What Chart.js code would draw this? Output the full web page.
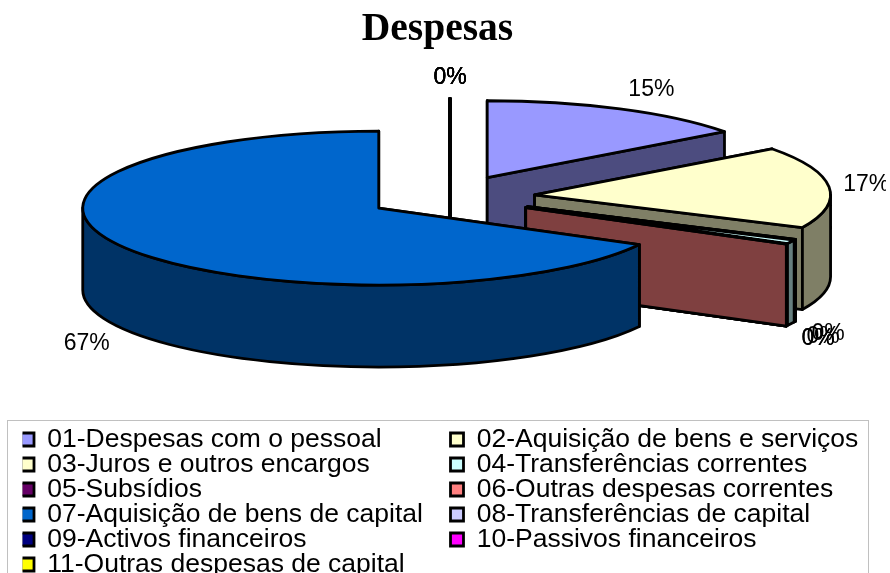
<!DOCTYPE html>
<html>
<head>
<meta charset="utf-8">
<title>Despesas</title>
<script src="https://cdn.jsdelivr.net/npm/chart.js@4"></script>
<style>
html,body{margin:0;padding:0;background:#fff;}
canvas{display:block;}
</style>
</head>
<body>
<canvas id="pie" width="886" height="573"></canvas>
<script>
var categories=["01-Despesas com o pessoal","02-Aquisição de bens e serviços","03-Juros e outros encargos","04-Transferências correntes","05-Subsídios","06-Outras despesas correntes","07-Aquisição de bens de capital","08-Transferências de capital","09-Activos financeiros","10-Passivos financeiros","11-Outras despesas de capital"];
var values=[14.8,17.2,0.05,0.8,0.005,0.005,67.14,0,0,0,0];
var percentLabels=["15%","17%","0%","0%","0%","0%","67%","0%","0%","0%","0%"];
var colors=["#9999FF","#FFFFCC","#FFFFCC","#CCFFFF","#660066","#FF8080","#0066CC","#CCCCFF","#000080","#FF00FF","#FFFF00"];
var explodes=[83,85,86,86,86,86,83,83,83,83,83]; // afastamento das fatias

var squash=0.26;   // achatamento da elipse
var depth=82;      // altura da parede 3D

function darker(hex){
    var n=parseInt(hex.slice(1),16);
    return "rgb("+((n>>16&255)>>1)+","+((n>>8&255)>>1)+","+((n&255)>>1)+")";
}

var pie3d={
    id:"pie3d",
    afterLayout:function(chart){
        // titulo centrado na caixa da legenda
        chart.titleBlock.left=7;
        chart.titleBlock.right=868;
        // legenda em baixo, duas colunas
        var legend=chart.legend;
        legend.left=22.5;
        legend.right=868;
        legend.top=427.75;
        legend.bottom=590;
        legend.columnSizes[0].width=431;
    },
    beforeDatasetsDraw:function(chart){
        var ctx=chart.ctx;
        var slices=chart.getDatasetMeta(0).data.map(function(arc,i){
            var mid=(arc.startAngle+arc.endAngle)/2;
            return {
                i:i,
                t0:arc.startAngle,
                t1:arc.endAngle,
                mid:mid,
                r:arc.outerRadius,
                x:arc.x+Math.cos(mid)*explodes[i],
                y:arc.y+Math.sin(mid)*explodes[i]*squash,
                color:arc.options.backgroundColor
            };
        });
        // de tras para a frente
        var order=slices.slice().sort(function(a,b){return Math.sin(a.mid)-Math.sin(b.mid);});

        ctx.save();
        ctx.lineWidth=2.8;
        ctx.lineJoin="round";
        ctx.lineCap="round";
        ctx.strokeStyle="#000";

        function rx(s,t){return s.x+Math.cos(t)*s.r;}
        function ry(s,t){return s.y+Math.sin(t)*s.r*squash;}
        function face(s,t){
            ctx.beginPath();
            ctx.moveTo(s.x,s.y);
            ctx.lineTo(rx(s,t),ry(s,t));
            ctx.lineTo(rx(s,t),ry(s,t)+depth);
            ctx.lineTo(s.x,s.y+depth);
            ctx.closePath();
            ctx.fillStyle=darker(s.color);
            ctx.fill();
            ctx.stroke();
        }

        order.forEach(function(s){
            face(s,s.t0);
            face(s,s.t1);
            // parede exterior, so a parte da frente
            var a=Math.max(s.t0,0),b=Math.min(s.t1,Math.PI);
            if(b>a){
                ctx.beginPath();
                ctx.ellipse(s.x,s.y,s.r,s.r*squash,0,a,b);
                ctx.lineTo(rx(s,b),ry(s,b)+depth);
                ctx.ellipse(s.x,s.y+depth,s.r,s.r*squash,0,b,a,true);
                ctx.closePath();
                ctx.fillStyle=darker(s.color);
                ctx.fill();
                ctx.stroke();
            }
            // topo
            ctx.beginPath();
            ctx.moveTo(s.x,s.y);
            ctx.ellipse(s.x,s.y,s.r,s.r*squash,0,s.t0,s.t1);
            ctx.closePath();
            ctx.fillStyle=s.color;
            ctx.fill();
            ctx.stroke();
        });

        // percentagens
        ctx.fillStyle="#000";
        ctx.font="23px 'Liberation Sans'";
        ctx.textAlign="center";
        ctx.textBaseline="middle";
        slices.forEach(function(s){
            var c=Math.cos(s.mid),d=Math.sin(s.mid);
            var lx=rx(s,s.mid)+(d<0?37*c+60*c*(1-Math.abs(c)):40*c-3.5);
            var ly=ry(s,s.mid)+21*d+(d>0?depth+3:0);
            ctx.fillText(percentLabels[s.i],lx,ly);
        });
        ctx.restore();
        return false;
    },
    afterDraw:function(chart){
        var ctx=chart.ctx;
        ctx.save();
        ctx.strokeStyle="#808080";
        ctx.lineWidth=1;
        ctx.setLineDash([1,1]);
        ctx.strokeRect(7.5,420.5,861,170);
        ctx.restore();
    }
};

new Chart(document.getElementById("pie"),{
    type:"pie",
    data:{
        labels:categories,
        datasets:[{
            data:values,
            backgroundColor:colors,
            borderColor:"#000",
            borderWidth:2.8
        }]
    },
    options:{
        responsive:false,
        animation:false,
        radius:296,
        layout:{padding:{left:14,bottom:296}},
        plugins:{
            tooltip:{enabled:false},
            title:{
                display:true,
                text:"Despesas",
                color:"#000",
                font:{family:"'Liberation Serif'",size:39.5,weight:"bold"},
                padding:{top:6,bottom:63.6}
            },
            legend:{
                position:"chartArea",
                align:"start",
                labels:{
                    color:"#000",
                    font:{family:"'Liberation Sans'",size:26.5},
                    boxWidth:13,
                    boxHeight:13,
                    padding:-1.5,
                    sort:function(a,b){return a.index%2-b.index%2||a.index-b.index;}
                }
            }
        }
    },
    plugins:[pie3d]
});
</script>
</body>
</html>
